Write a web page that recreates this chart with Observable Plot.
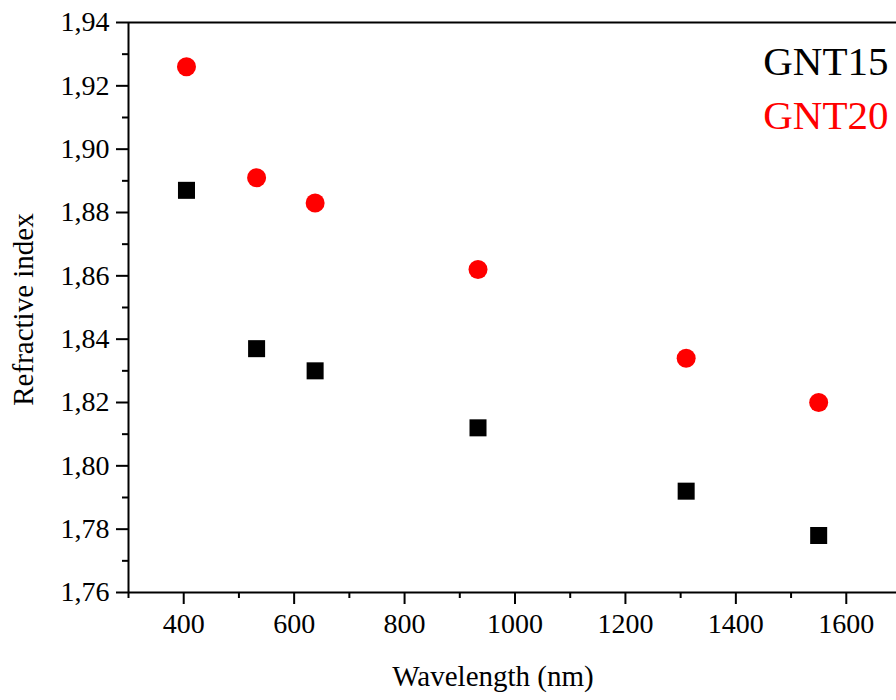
<!DOCTYPE html>
<html>
<head>
<meta charset="utf-8">
<script src="https://cdn.jsdelivr.net/npm/d3@7"></script>
<script src="https://cdn.jsdelivr.net/npm/@observablehq/plot@0.6"></script>
<style>
  html, body { margin: 0; padding: 0; background: #fff; overflow: hidden; }
</style>
</head>
<body>
<div id="chart"></div>
<script>
const wavelengths = [405, 532, 638, 933, 1310, 1550];
const gnt15 = [1.887, 1.837, 1.830, 1.812, 1.792, 1.778];
const gnt20 = [1.926, 1.891, 1.883, 1.862, 1.834, 1.820];
const seriesNames = ["GNT15", "GNT20"];
const seriesColors = ["#000000", "#ff0000"];

const xMajorTicks = [400, 600, 800, 1000, 1200, 1400, 1600];
const xMinorTicks = [300, 500, 700, 900, 1100, 1300, 1500, 1700];
const yMajorTicks = [1.76, 1.78, 1.80, 1.82, 1.84, 1.86, 1.88, 1.90, 1.92, 1.94];
const yMinorTicks = [1.77, 1.79, 1.81, 1.83, 1.85, 1.87, 1.89, 1.91, 1.93];

const xLabel = "Wavelength (nm)";
const yLabel = "Refractive index";

const d15 = wavelengths.map((w, i) => ({w, n: gnt15[i]}));
const d20 = wavelengths.map((w, i) => ({w, n: gnt20[i]}));

const FONT = "'Liberation Serif', 'Times New Roman', serif";

const chart = Plot.plot({
  width: 896,
  height: 700,
  marginLeft: 128,
  marginRight: -5,
  marginTop: 22,
  marginBottom: 108,
  style: {fontFamily: FONT, color: "black", background: "white"},
  x: {domain: [300, 1700]},
  y: {domain: [1.76, 1.94]},
  marks: [
    Plot.axisX({ticks: xMajorTicks, tickSize: 12, tickPadding: 9, tickFormat: d => String(d), fontSize: 28, fontFamily: FONT, strokeWidth: 2, label: null}),
    Plot.axisX({ticks: xMinorTicks, tickSize: 6, tickFormat: () => "", strokeWidth: 2, label: null}),
    Plot.axisY({ticks: yMajorTicks, tickSize: 12, tickPadding: 7, tickFormat: d => d.toFixed(2).replace(".", ","), fontSize: 28, fontFamily: FONT, strokeWidth: 2, label: null}),
    Plot.axisY({ticks: yMinorTicks, tickSize: 6, tickFormat: () => "", strokeWidth: 2, label: null}),
    Plot.ruleX([300], {stroke: "black", strokeWidth: 2}),
    Plot.ruleY([1.76], {stroke: "black", strokeWidth: 2}),
    Plot.ruleY([1.94], {stroke: "black", strokeWidth: 2}),
    Plot.dot(d15, {x: "w", y: "n", symbol: "square", r: 9.6, fill: seriesColors[0], stroke: "none"}),
    Plot.dot(d20, {x: "w", y: "n", symbol: "circle", r: 9.5, fill: seriesColors[1], stroke: "none"}),
    Plot.text([xLabel], {frameAnchor: "bottom", textAnchor: "middle", lineAnchor: "bottom", dy: 93, dx: -22, fontSize: 29, fontFamily: FONT, fill: "black"}),
    Plot.text([yLabel], {frameAnchor: "left", textAnchor: "middle", lineAnchor: "bottom", rotate: -90, dx: -96, dy: 2, fontSize: 29, fontFamily: FONT, fill: "black"}),
    Plot.text([seriesNames[0]], {frameAnchor: "top-right", textAnchor: "end", lineAnchor: "bottom", dx: -13, dy: 52, fontSize: 41, fontFamily: FONT, fill: seriesColors[0]}),
    Plot.text([seriesNames[1]], {frameAnchor: "top-right", textAnchor: "end", lineAnchor: "bottom", dx: -13, dy: 106, fontSize: 41, fontFamily: FONT, fill: seriesColors[1]})
  ]
});
document.getElementById("chart").appendChild(chart);
</script>
</body>
</html>
